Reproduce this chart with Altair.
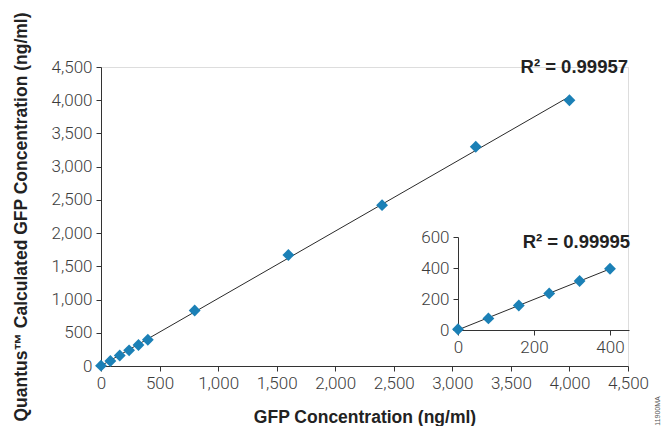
import altair as alt
import pandas as pd

# ---- data ----
conc = [0, 80, 160, 240, 320, 400, 800, 1600, 2400, 3200, 4000]
measured = [5, 75, 158, 236, 316, 395, 835, 1670, 2420, 3300, 4000]
inset_conc = [0, 80, 160, 240, 320, 400]
inset_measured = [5, 75, 158, 236, 316, 395]
main_ticks = [0, 500, 1000, 1500, 2000, 2500, 3000, 3500, 4000, 4500]
inset_x_ticks = [0, 200, 400]
inset_y_ticks = [0, 200, 400, 600]
r2_main = ["R\u00b2 = 0.99957"]
r2_inset = ["R\u00b2 = 0.99995"]
watermark = ["11900MA"]

LABEL_FONT = "Roboto"
TITLE_FONT = "Liberation Sans"
POINT_COLOR = "#1b80b6"
LINE_COLOR = "#2a2a2a"

W, H = 527, 299

main_df = pd.DataFrame({"conc": conc, "meas": measured})
inset_df = pd.DataFrame({"ic": inset_conc, "im": inset_measured})

axis_common = dict(
    labelFont=LABEL_FONT, labelFontSize=17, labelFontWeight=300, labelColor="#3c3c3c",
    domainColor="#333333", tickColor="#333333", tickSize=5, grid=False,
    labelPadding=4, labelFlush=False, labelOverlap=False, format=",.0f",
)

x_main = alt.X(
    "conc:Q",
    scale=alt.Scale(domain=[0, 4500], nice=False),
    axis=alt.Axis(
        values=main_ticks, orient="bottom",
        title="GFP Concentration (ng/ml)", titleFont=TITLE_FONT, titleFontSize=17.5,
        titleFontWeight="bold", titleColor="#222222", titleX=W / 2, titleY=51,
        titleBaseline="middle", titleAlign="center", **axis_common,
    ),
)
y_main = alt.Y(
    "meas:Q",
    scale=alt.Scale(domain=[0, 4500], nice=False),
    axis=alt.Axis(
        values=main_ticks, orient="left",
        title="Quantus\u2122 Calculated GFP Concentration (ng/ml)", titleFont=TITLE_FONT,
        titleFontSize=17.5, titleFontWeight="bold", titleColor="#222222",
        titleX=-80, titleY=H / 2, titleAngle=270, titleBaseline="middle",
        titleAlign="center", **axis_common,
    ),
)

main_line = alt.Chart(main_df).transform_regression(
    "conc", "meas", extent=[0, 4000]
).mark_line(color=LINE_COLOR, strokeWidth=1).encode(x=x_main, y=y_main)

main_pts = alt.Chart(main_df).mark_point(
    shape="diamond", filled=True, size=140, color=POINT_COLOR, opacity=1
).encode(x=x_main, y=y_main)

main_txt = alt.Chart(pd.DataFrame({"conc": [4500], "meas": [4500], "t": r2_main})).mark_text(
    align="right", baseline="middle", font=TITLE_FONT, fontSize=18.5, fontWeight="bold",
    color="#222222",
).encode(x=x_main, y=y_main, text="t:N")

wm_txt = alt.Chart(pd.DataFrame({"conc": [4756], "meas": [-677], "t": watermark})).mark_text(
    align="center", baseline="middle", font="Liberation Sans", fontSize=7, angle=270,
    color="#555555",
).encode(x=x_main, y=y_main, text="t:N")

main_layer = alt.layer(main_line, main_pts, main_txt, wm_txt)

# ---- inset ----
x_inset = alt.X(
    "ic:Q",
    scale=alt.Scale(domain=[0, 450], range=[357, 528], nice=False),
    axis=alt.Axis(values=inset_x_ticks, orient="bottom", offset=-36, title=None, **axis_common),
)
y_inset = alt.Y(
    "im:Q",
    scale=alt.Scale(domain=[0, 600], range=[263, 170], nice=False),
    axis=alt.Axis(values=inset_y_ticks, orient="left", offset=-357, title=None, **axis_common),
)

inset_line = alt.Chart(inset_df).transform_regression(
    "ic", "im", extent=[0, 400]
).mark_line(color=LINE_COLOR, strokeWidth=1).encode(x=x_inset, y=y_inset)

inset_pts = alt.Chart(inset_df).mark_point(
    shape="diamond", filled=True, size=140, color=POINT_COLOR, opacity=1
).encode(x=x_inset, y=y_inset)

inset_txt = alt.Chart(pd.DataFrame({"ic": [453], "im": [565], "t": r2_inset})).mark_text(
    align="right", baseline="middle", font=TITLE_FONT, fontSize=18.5, fontWeight="bold",
    color="#222222",
).encode(x=x_inset, y=y_inset, text="t:N")

inset_layer = alt.layer(inset_line, inset_pts, inset_txt)

chart = alt.layer(main_layer, inset_layer).resolve_scale(
    x="independent", y="independent"
).properties(
    width=W, height=H,
    autosize=alt.AutoSizeParams(type="none"),
    padding={"left": 93, "top": 59, "right": 35, "bottom": 60},
).configure_view(stroke=None).configure(background="white")

chart.save("out.html", embed_options={"renderer": "svg", "actions": False})
